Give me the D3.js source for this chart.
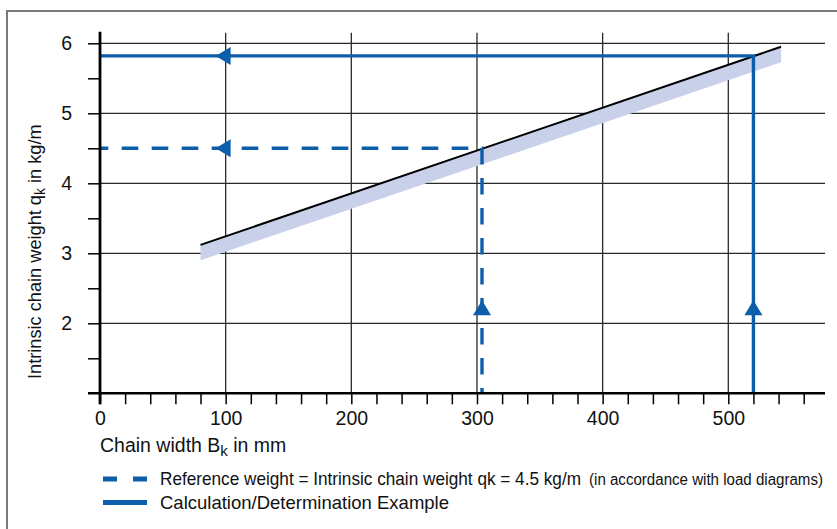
<!DOCTYPE html>
<html>
<head>
<meta charset="utf-8">
<script src="https://cdn.jsdelivr.net/npm/d3@7/dist/d3.min.js"></script>
<style>
  html, body { margin: 0; padding: 0; background: #fff; }
  svg { display: block; font-family: "Liberation Sans", Arial, sans-serif; }
</style>
</head>
<body>
<svg id="chart" width="837" height="529"></svg>
<script>
// Chain weight characteristic: q_k over chain width B_k
const chainWidth  = [80, 542];          // mm, ends of the characteristic
const chainWeight = [3.12, 5.95];       // kg/m at those widths
const bandDepth   = 0.22;               // tolerance band below the line, kg/m

// Reference reading (dashed) and worked example (solid)
const refPoint     = { width: 304, weight: 4.5 };
const examplePoint = { width: 520, weight: 5.82 };
const arrowTipX = 92;    // mm, tip of the leftward arrows
const arrowTipY = 2.33;  // kg/m, tip of the upward arrows

const xTicks      = [0, 100, 200, 300, 400, 500];
const xMinorTicks = d3.range(0, 561, 20);
const yTicks      = [2, 3, 4, 5, 6];
const yMinorTicks = [1.5, 2, 2.5, 3, 3.5, 4, 4.5, 5, 5.5, 6];

const legendItems = [
  { dash: true,  text: "Reference weight = Intrinsic chain weight qk = 4.5 kg/m", note: "(in accordance with load diagrams)" },
  { dash: false, text: "Calculation/Determination Example", note: "" }
];

const BLUE = "#0c5eab";
const svg = d3.select("#chart");

const x = d3.scaleLinear().domain([0, 500]).range([100, 728.3]);
const y = d3.scaleLinear().domain([1, 6]).range([393.3, 43.3]);

const xEnd = 825;            // right end of axis / horizontal grid
const yTop = y(6.15);        // top of vertical grid / axis

// outer frame
svg.append("rect")
  .attr("x", 7).attr("y", 11).attr("width", 845).attr("height", 540)
  .attr("fill", "none").attr("stroke", "#7a7a7a").attr("stroke-width", 2);

// grid
const grid = svg.append("g").attr("stroke", "#2a2a2a").attr("stroke-width", 1.3);
grid.selectAll("line.v").data(xTicks.filter(d => d > 0)).join("line")
  .attr("x1", d => x(d)).attr("x2", d => x(d))
  .attr("y1", yTop).attr("y2", y(1));
grid.selectAll("line.h").data(yTicks).join("line")
  .attr("x1", x(0)).attr("x2", xEnd)
  .attr("y1", d => y(d)).attr("y2", d => y(d));

// tolerance band under the characteristic
const lineData = chainWidth.map((w, i) => ({ w, q: chainWeight[i] }));
svg.append("path")
  .datum(lineData)
  .attr("fill", "#c8d0ea")
  .attr("d", d3.area().x(d => x(d.w)).y0(d => y(d.q - bandDepth)).y1(d => y(d.q)));

// characteristic line
svg.append("path")
  .datum(lineData)
  .attr("fill", "none").attr("stroke", "#000").attr("stroke-width", 2)
  .attr("d", d3.line().x(d => x(d.w)).y(d => y(d.q)));

// reading paths
const readPath = p => d3.line()([[x(0), y(p.weight)], [x(p.width), y(p.weight)], [x(p.width), y(1)]]);
svg.append("path")
  .attr("d", readPath(refPoint))
  .attr("fill", "none").attr("stroke", BLUE).attr("stroke-width", 3.4)
  .attr("stroke-dasharray", "16.6,13.4").attr("stroke-dashoffset", 8.3);
svg.append("path")
  .attr("d", readPath(examplePoint))
  .attr("fill", "none").attr("stroke", BLUE).attr("stroke-width", 3.4);

// arrowheads
const arrowLen = 15, arrowHalf = 9;
function arrowLeft(px, py) {
  return `M${px},${py}L${px + arrowLen},${py - arrowHalf}L${px + arrowLen},${py + arrowHalf}Z`;
}
function arrowUp(px, py) {
  return `M${px},${py}L${px - arrowHalf},${py + arrowLen}L${px + arrowHalf},${py + arrowLen}Z`;
}
[refPoint, examplePoint].forEach(p => {
  svg.append("path").attr("d", arrowLeft(x(arrowTipX), y(p.weight))).attr("fill", BLUE);
  svg.append("path").attr("d", arrowUp(x(p.width), y(arrowTipY))).attr("fill", BLUE);
});

// x axis
const xAxis = svg.append("g")
  .attr("transform", `translate(0,${y(1)})`)
  .call(d3.axisBottom(x).tickValues(xMinorTicks).tickSize(11).tickPadding(7)
    .tickFormat(d => xTicks.includes(d) ? d : ""));
xAxis.attr("font-size", null).attr("font-family", null);
xAxis.select(".domain").remove();
xAxis.selectAll(".tick line").attr("stroke", "#000").attr("stroke-width", 1.5);
xAxis.selectAll(".tick text")
  .style("font-size", "19.5px").style("font-family", "'Liberation Sans', Arial, sans-serif")
  .attr("fill", "#111");
svg.append("line")
  .attr("x1", 88).attr("x2", xEnd).attr("y1", y(1)).attr("y2", y(1))
  .attr("stroke", "#000").attr("stroke-width", 2.6);

// y axis
const yAxis = svg.append("g")
  .attr("transform", `translate(${x(0)},0)`)
  .call(d3.axisLeft(y).tickValues(yMinorTicks).tickSize(12).tickPadding(16)
    .tickFormat(d => yTicks.includes(d) ? d : ""));
yAxis.attr("font-size", null).attr("font-family", null);
yAxis.select(".domain").remove();
yAxis.selectAll(".tick line").attr("stroke", "#000").attr("stroke-width", 1.5);
yAxis.selectAll(".tick text")
  .style("font-size", "19.5px").style("font-family", "'Liberation Sans', Arial, sans-serif")
  .attr("fill", "#111");
svg.append("line")
  .attr("x1", x(0)).attr("x2", x(0)).attr("y1", yTop - 1).attr("y2", y(1) + 11)
  .attr("stroke", "#000").attr("stroke-width", 2.8);

// axis titles
const xTitle = svg.append("text")
  .attr("x", 100).attr("y", 451.5).attr("font-size", 19.5).attr("fill", "#111");
xTitle.append("tspan").text("Chain width B");
xTitle.append("tspan").attr("font-size", 15).attr("dy", 4).text("k");
xTitle.append("tspan").attr("dy", -4).text(" in mm");

const yTitle = svg.append("text")
  .attr("transform", "translate(41,379) rotate(-90)")
  .attr("font-size", 18.2).attr("fill", "#111");
yTitle.append("tspan").text("Intrinsic chain weight q");
yTitle.append("tspan").attr("font-size", 14).attr("dy", 3.5).text("k");
yTitle.append("tspan").attr("dy", -3.5).text(" in kg/m");

// legend
const legendRowY = [485, 508.5];
const legendTextLen = [[421, 234], [289, 0]];
legendItems.forEach((item, i) => {
  const ly = legendRowY[i];
  svg.append("line")
    .attr("x1", 103).attr("x2", 147).attr("y1", ly - 6).attr("y2", ly - 6)
    .attr("stroke", BLUE).attr("stroke-width", 5)
    .attr("stroke-dasharray", item.dash ? "14,16" : null);
  svg.append("text")
    .attr("x", 160).attr("y", ly).attr("font-size", 18.5).attr("fill", "#111")
    .attr("textLength", legendTextLen[i][0]).attr("lengthAdjust", "spacingAndGlyphs")
    .text(item.text);
  if (item.note) {
    svg.append("text")
      .attr("x", 589).attr("y", ly).attr("font-size", 16).attr("fill", "#111")
      .attr("textLength", legendTextLen[i][1]).attr("lengthAdjust", "spacingAndGlyphs")
      .text(item.note);
  }
});
</script>
</body>
</html>
